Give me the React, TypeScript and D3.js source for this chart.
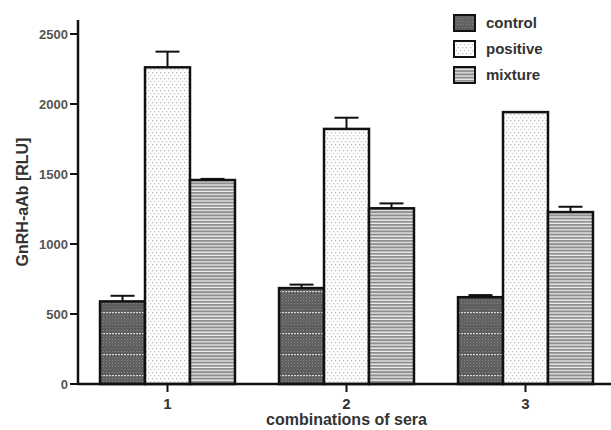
import React from "react";
import * as d3 from "d3";

const groups = ["1", "2", "3"];
const series = ["control", "positive", "mixture"];
const control = [590, 685, 620];
const controlErr = [40, 25, 15];
const positive = [2262, 1822, 1942];
const positiveErr = [112, 80, 0];
const mixture = [1457, 1255, 1228];
const mixtureErr = [8, 35, 38];
const yTicks = [0, 500, 1000, 1500, 2000, 2500];

const values = [control, positive, mixture];
const errors = [controlErr, positiveErr, mixtureErr];
const patternIds = ["pat-control", "pat-positive", "pat-mixture"];

const width = 611;
const height = 430;
const font = "'Liberation Sans', Arial, sans-serif";

export default function App() {
  const x = d3.scaleBand().domain(groups).range([78, 615]).paddingInner(0.246).paddingOuter(0.123);
  const xs = d3.scaleBand().domain(series).range([0, x.bandwidth()]);
  const y = d3.scaleLinear().domain([0, 2600]).range([384, 20]);

  return (
    <svg width={width} height={height} style={{ position: "fixed", left: 0, top: 0, background: "#fff" }}>
      <defs>
        <pattern id="pat-control" width="3" height="21" patternUnits="userSpaceOnUse">
          <rect width="3" height="21" fill="#5e5e5e" />
          <rect x="0" y="0" width="1" height="1" fill="#8a8a8a" />
          <rect x="1.5" y="1.5" width="1" height="1" fill="#7a7a7a" />
          <rect x="0" y="3" width="1" height="1" fill="#8a8a8a" />
          <rect x="1.5" y="4.5" width="1" height="1" fill="#7a7a7a" />
          <rect x="0" y="6" width="1" height="1" fill="#8a8a8a" />
          <rect x="1.5" y="7.5" width="1" height="1" fill="#7a7a7a" />
          <rect x="0" y="9" width="1" height="1" fill="#8a8a8a" />
          <rect x="1.5" y="12" width="1" height="1" fill="#7a7a7a" />
          <rect x="0" y="15" width="1" height="1" fill="#8a8a8a" />
          <rect x="0" y="18" width="2" height="1.2" fill="#d8d8d8" />
        </pattern>
        <pattern id="pat-positive" width="4" height="6" patternUnits="userSpaceOnUse">
          <rect width="4" height="6" fill="#fdfdfd" />
          <rect x="0" y="0" width="1.2" height="1.2" fill="#b5b5b5" />
          <rect x="2" y="3" width="1.2" height="1.2" fill="#c5c5c5" />
        </pattern>
        <pattern id="pat-mixture" width="4" height="3.2" patternUnits="userSpaceOnUse">
          <rect width="4" height="3.2" fill="#f2f2f2" />
          <rect x="0" y="0" width="4" height="2" fill="#8e8e8e" />
        </pattern>
      </defs>

      {/* bars */}
      {groups.map((g, gi) => (
        <g key={g} transform={`translate(${x(g)},0)`}>
          {series.map((s, si) => {
            const v = values[si][gi];
            const e = errors[si][gi];
            const bx = xs(s) as number;
            const bw = xs.bandwidth();
            const cx = bx + bw / 2;
            return (
              <g key={s}>
                {e > 0 && (
                  <g stroke="#111" strokeWidth={2}>
                    <line x1={cx} x2={cx} y1={y(v)} y2={y(v + e)} />
                    <line x1={cx - 12} x2={cx + 12} y1={y(v + e)} y2={y(v + e)} />
                  </g>
                )}
                <rect
                  x={bx}
                  y={y(v)}
                  width={bw}
                  height={y(0) - y(v)}
                  fill={`url(#${patternIds[si]})`}
                  stroke="#111"
                  strokeWidth={2.5}
                />
              </g>
            );
          })}
        </g>
      ))}

      {/* y axis */}
      <line x1={78} x2={78} y1={y(2600)} y2={y(0) + 1} stroke="#111" strokeWidth={2.5} />
      {yTicks.map((t) => (
        <g key={t} transform={`translate(0,${y(t)})`}>
          <line x1={70} x2={78} stroke="#111" strokeWidth={2} />
          <text x={68} dy="0.35em" textAnchor="end" fontFamily={font} fontSize={13} fontWeight="bold" fill="#555">
            {t}
          </text>
        </g>
      ))}
      <text
        transform={`translate(28,${(y(0) + y(2600)) / 2}) rotate(-90)`}
        textAnchor="middle"
        fontFamily={font}
        fontSize={16}
        fontWeight="bold"
        fill="#333"
      >
        GnRH-aAb [RLU]
      </text>

      {/* x axis */}
      <line x1={77} x2={611} y1={y(0)} y2={y(0)} stroke="#111" strokeWidth={2.5} />
      {groups.map((g) => {
        const cx = (x(g) as number) + x.bandwidth() / 2;
        return (
          <g key={g}>
            <line x1={cx} x2={cx} y1={y(0)} y2={y(0) + 8} stroke="#111" strokeWidth={2} />
            <text x={cx} y={409} textAnchor="middle" fontFamily={font} fontSize={15} fontWeight="bold" fill="#333">
              {g}
            </text>
          </g>
        );
      })}
      <text
        x={(x("2") as number) + x.bandwidth() / 2}
        y={425}
        textAnchor="middle"
        fontFamily={font}
        fontSize={16}
        fontWeight="bold"
        fill="#333"
      >
        combinations of sera
      </text>

      {/* legend */}
      {series.map((s, si) => (
        <g key={s} transform={`translate(454,${15 + si * 26})`}>
          <rect width={21} height={16} fill={`url(#${patternIds[si]})`} stroke="#111" strokeWidth={2} />
          <text x={32} y={13} fontFamily={font} fontSize={15} fontWeight="bold" fill="#333">
            {s}
          </text>
        </g>
      ))}
    </svg>
  );
}
